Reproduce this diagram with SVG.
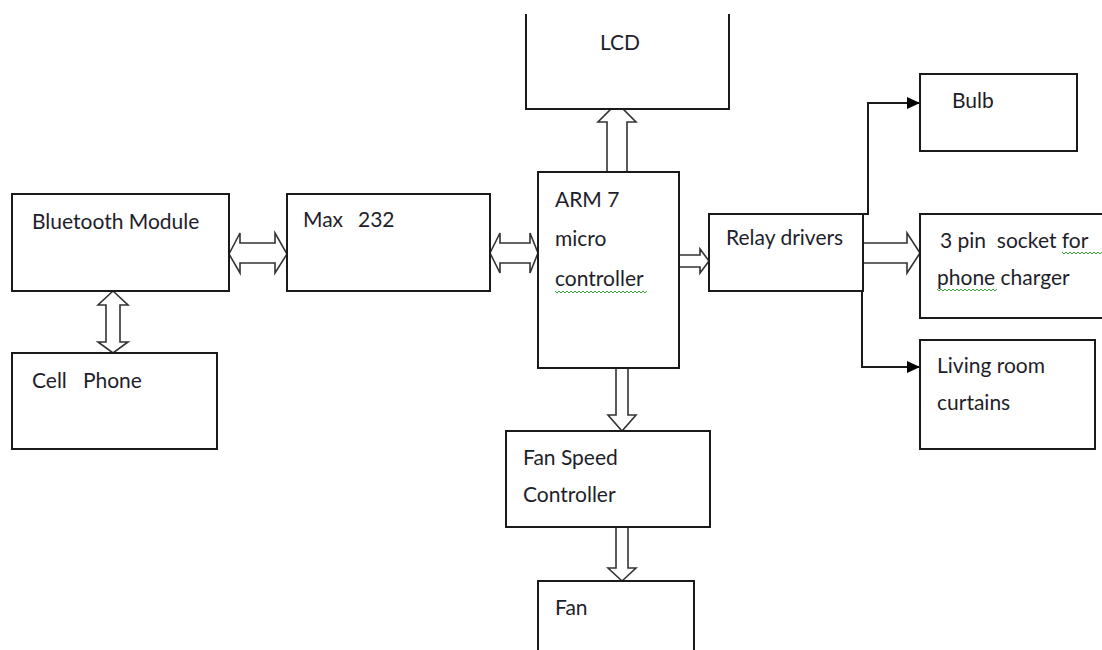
<svg xmlns="http://www.w3.org/2000/svg" width="1102" height="650" viewBox="0 0 1102 650">
<style>
.box{fill:#fff;stroke:#1a1a1a;stroke-width:2}
.blk{fill:#fff;stroke:#333;stroke-width:1.6;stroke-linejoin:miter}
.ln{fill:none;stroke:#1a1a1a;stroke-width:2}
.t{font-family:Lato,"Open Sans","Liberation Sans",sans-serif;font-size:21px;fill:#1e1e2a}
.wv{fill:none;stroke:#3aa33a;stroke-width:1}
</style>
<defs>
<marker id="ah" markerWidth="14" markerHeight="12" refX="13" refY="6" orient="auto" markerUnits="userSpaceOnUse">
<path d="M0,0 L13,6 L0,12 Z" fill="#000"/>
</marker>
</defs>
<rect width="1102" height="650" fill="#fff"/>

<g id="connectors">
<path class="blk" d="M607,172 L607,122 L598,122 L617,103 L636,122 L627,122 L627,172"/>
<path class="blk" d="M113,291 L128,305 L120,305 L120,342 L128,342 L113,353 L98,342 L106,342 L106,305 L98,305 Z"/>
<path class="blk" d="M229,254 L240,233 L240,243 L275,243 L275,233 L287,254 L275,273 L275,263 L240,263 L240,273 Z"/>
<path class="blk" d="M490,253 L500,233 L500,243 L530,243 L530,233 L538,253 L530,273 L530,263 L500,263 L500,273 Z"/>
<path class="blk" d="M679,255 L700,255 L700,249 L709,261 L700,273 L700,267 L679,267"/>
<path class="blk" d="M863,243 L907,243 L907,233 L920,253 L907,273 L907,263 L863,263"/>
<path class="blk" d="M616,368 L616,415 L608,415 L622,431 L636,415 L628,415 L628,368"/>
<path class="blk" d="M616,527 L616,568 L608,568 L622,581 L636,568 L628,568 L628,527"/>
<polyline class="ln" points="863,214 868,214 868,103 920,103" marker-end="url(#ah)"/>
<polyline class="ln" points="862,291 862,367 920,367" marker-end="url(#ah)"/>
</g>

<g id="lcd">
<path class="box" d="M526,14 L526,109 L729,109 L729,14" fill="none"/>
<text class="t" x="600" y="50">LCD</text>
</g>

<g id="bluetooth">
<rect class="box" x="12" y="194" width="217" height="97"/>
<text class="t" x="32" y="229">Bluetooth Module</text>
</g>

<g id="cellphone">
<rect class="box" x="12" y="353" width="205" height="96"/>
<text class="t" x="32" y="388" xml:space="preserve">Cell   Phone</text>
</g>

<g id="max232">
<rect class="box" x="287" y="194" width="203" height="97"/>
<text class="t" x="303" y="227">Max<tspan x="358">232</tspan></text>
</g>

<g id="arm7">
<rect class="box" x="538" y="172" width="141" height="196"/>
<text class="t" x="555" y="207">ARM 7</text>
<text class="t" x="555" y="246">micro</text>
<text class="t" x="555" y="286">controller</text>
<path class="wv" d="M555,291 l2,2 l2,-2 l2,2 l2,-2 l2,2 l2,-2 l2,2 l2,-2 l2,2 l2,-2 l2,2 l2,-2 l2,2 l2,-2 l2,2 l2,-2 l2,2 l2,-2 l2,2 l2,-2 l2,2 l2,-2 l2,2 l2,-2 l2,2 l2,-2 l2,2 l2,-2 l2,2 l2,-2 l2,2 l2,-2 l2,2 l2,-2 l2,2 l2,-2 l2,2 l2,-2 l2,2 l2,-2 l2,2 l2,-2 l2,2 l2,-2 l2,2 l2,-2"/>
</g>

<g id="relay">
<rect class="box" x="709" y="214" width="154" height="77"/>
<text class="t" x="726" y="245">Relay drivers</text>
</g>

<g id="bulb">
<rect class="box" x="920" y="74" width="157" height="77"/>
<text class="t" x="952" y="108">Bulb</text>
</g>

<g id="socket">
<path class="box" d="M1104,214 L920,214 L920,318 L1104,318"/>
<text class="t" x="940" y="248" xml:space="preserve">3 pin  socket for</text>
<text class="t" x="937" y="285">phone charger</text>
<path class="wv" d="M1062,252 l2,2 l2,-2 l2,2 l2,-2 l2,2 l2,-2 l2,2 l2,-2 l2,2 l2,-2 l2,2 l2,-2 l2,2 l2,-2 l2,2 l2,-2 l2,2 l2,-2 l2,2 l2,-2"/>
<path class="wv" d="M937,289 l2,2 l2,-2 l2,2 l2,-2 l2,2 l2,-2 l2,2 l2,-2 l2,2 l2,-2 l2,2 l2,-2 l2,2 l2,-2 l2,2 l2,-2 l2,2 l2,-2 l2,2 l2,-2 l2,2 l2,-2 l2,2 l2,-2 l2,2 l2,-2 l2,2 l2,-2 l2,2 l2,-2"/>
</g>

<g id="curtains">
<rect class="box" x="920" y="340" width="175" height="109"/>
<text class="t" x="937" y="373">Living room</text>
<text class="t" x="937" y="410">curtains</text>
</g>

<g id="fanspeed">
<rect class="box" x="506" y="431" width="204" height="96"/>
<text class="t" x="523" y="465">Fan Speed</text>
<text class="t" x="523" y="502">Controller</text>
</g>

<g id="fan">
<path class="box" d="M538,652 L538,581 L694,581 L694,652"/>
<text class="t" x="555" y="615">Fan</text>
</g>
</svg>
